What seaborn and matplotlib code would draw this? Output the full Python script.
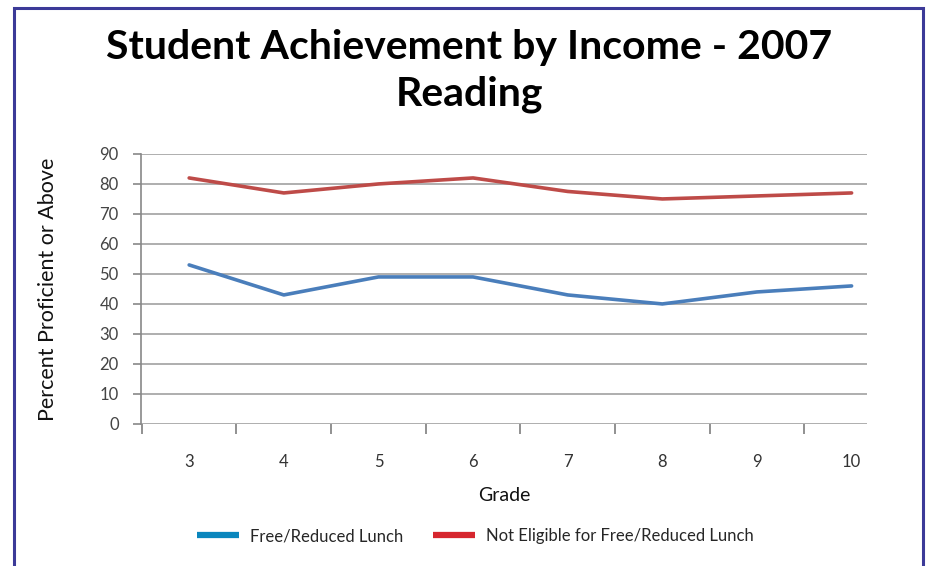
import pandas as pd
import matplotlib.pyplot as plt
import seaborn as sns
from matplotlib.lines import Line2D
from matplotlib.patches import Rectangle

# ================= DATA =================
GRADES = [3, 4, 5, 6, 7, 8, 9, 10]
FREE_REDUCED = [53, 43, 49, 49, 43, 40, 44, 46]
NOT_ELIGIBLE = [82, 77, 80, 82, 77.5, 75, 76, 77]
SERIES = ["Free/Reduced Lunch", "Not Eligible for Free/Reduced Lunch"]
Y_TICKS = [0, 10, 20, 30, 40, 50, 60, 70, 80, 90]

LINE_COLORS = {SERIES[0]: "#4a7ebb", SERIES[1]: "#be4b48"}
LEGEND_COLORS = ["#0a86bd", "#d6262e"]

df = pd.DataFrame({
    "Grade": GRADES * 2,
    "Percent": FREE_REDUCED + NOT_ELIGIBLE,
    "Group": [SERIES[0]] * len(GRADES) + [SERIES[1]] * len(GRADES),
})

sns.set_theme(style="white")
plt.rcParams['font.family'] = ['Lato', 'DejaVu Sans']

fig = plt.figure(figsize=(9.27, 5.66), dpi=100)
ax = fig.add_axes([0.152, 0.251, 0.783, 0.477])

sns.lineplot(data=df, x="Grade", y="Percent", hue="Group", palette=LINE_COLORS,
             linewidth=2.6, legend=False, ax=ax)

# category-style axis: labels at grades, tick marks between them
ax.set_xlim(2.49, 10.16)
ax.set_ylim(0, 90)
ax.set_xticks([g - 0.5 for g in GRADES])
ax.set_xticklabels([])
ax.set_xticks(GRADES, minor=True)
ax.set_xticklabels([str(g) for g in GRADES], minor=True)
ax.tick_params(axis='x', which='minor', bottom=True, length=0, pad=22, labelsize=12,
               colors="#333333")
ax.tick_params(axis='x', which='major', bottom=True, length=7, width=1.3, color="#888888",
               direction='out')
ax.set_yticks(Y_TICKS)
ax.tick_params(axis='y', left=True, length=6, width=1.2, color="#888888", direction='out',
               labelsize=12, labelcolor="#444444", pad=10)
ax.yaxis.grid(True, color="#a8a8a8", linewidth=1.3)
ax.set_axisbelow(True)
for side in ["top", "right", "bottom"]:
    ax.spines[side].set_visible(False)
ax.spines["left"].set_color("#888888")
ax.spines["left"].set_linewidth(1.2)

ax.set_xlabel("Grade", fontsize=14, labelpad=12, color="#111111")
ax.set_ylabel("Percent Proficient or Above", fontsize=15.5, labelpad=30, color="#111111")

fig.text(0.506, 0.875, "Student Achievement by Income - 2007\nReading", ha='center',
         va='center', fontsize=29.5, fontweight='bold', linespacing=1.32, color="black")

handles = [Line2D([0], [0], color=c, linewidth=4.5, solid_capstyle='butt')
           for c in LEGEND_COLORS]
fig.legend(handles, SERIES, loc='center', bbox_to_anchor=(0.513, 0.053), ncol=2,
           frameon=False, fontsize=12, handlelength=2.5, handletextpad=0.7,
           columnspacing=1.75)

# dark purple frame around the page
fig.patches.append(Rectangle((14 / 927, -0.05), 909 / 927, 1.036, transform=fig.transFigure,
                             fill=False, edgecolor="#3c3a98", linewidth=2.2))

plt.savefig("out.png", dpi=100)
plt.close()
